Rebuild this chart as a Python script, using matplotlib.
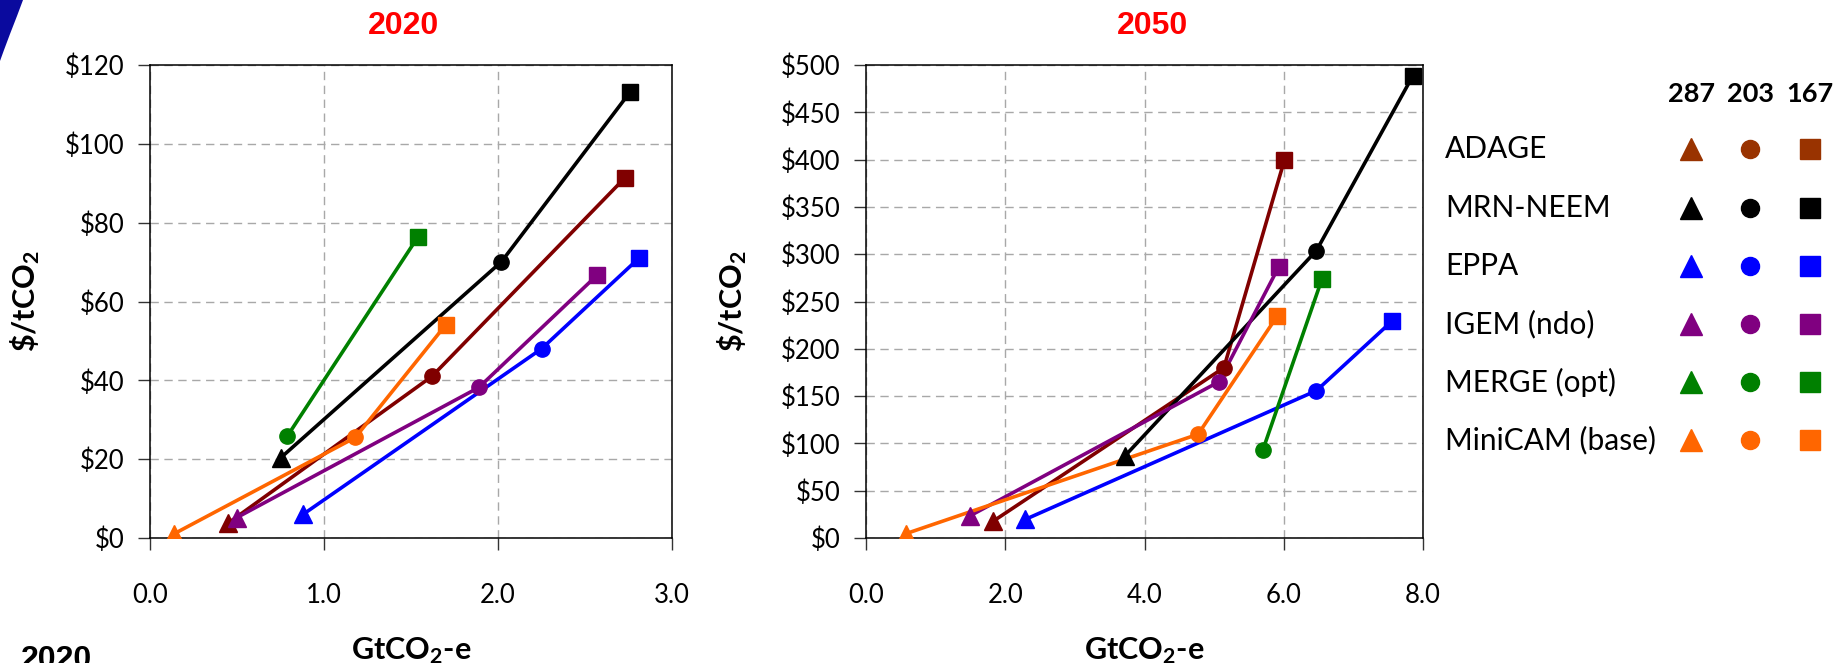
import numpy as np
import matplotlib
matplotlib.use('Agg')
import matplotlib.pyplot as plt
from matplotlib.patches import Polygon

plt.rcParams['font.family'] = ['Lato', 'DejaVu Sans']
plt.rcParams['mathtext.fontset'] = 'custom'
plt.rcParams['mathtext.rm'] = 'Lato'
plt.rcParams['mathtext.bf'] = 'Lato:bold'
plt.rcParams['mathtext.it'] = 'Lato:italic'

# model names and colours
models = ['ADAGE', 'MRN-NEEM', 'EPPA', 'IGEM (ndo)', 'MERGE (opt)', 'MiniCAM (base)']
line_colors = ['#800000', '#000000', '#0000FF', '#800080', '#008000', '#FF6600']
legend_colors = ['#993300', '#000000', '#0000FF', '#800080', '#008000', '#FF6600']
scenarios = ['287', '203', '167']
markers = ['^', 'o', 's']

# 2020: abatement (GtCO2-e) and price ($/tCO2) for 287 / 203 / 167 ppm cases
x_2020 = {
    'ADAGE': [0.45, 1.62, 2.73],
    'MRN-NEEM': [0.75, 2.02, 2.76],
    'EPPA': [0.88, 2.25, 2.81],
    'IGEM (ndo)': [0.50, 1.89, 2.57],
    'MERGE (opt)': [None, 0.79, 1.54],
    'MiniCAM (base)': [0.14, 1.18, 1.70],
}
y_2020 = {
    'ADAGE': [3.8, 41.0, 91.4],
    'MRN-NEEM': [20.3, 70.1, 113.2],
    'EPPA': [6.0, 48.0, 71.0],
    'IGEM (ndo)': [5.2, 38.2, 66.7],
    'MERGE (opt)': [None, 25.9, 76.4],
    'MiniCAM (base)': [1.1, 25.5, 54.1],
}
# 2050
x_2050 = {
    'ADAGE': [1.83, 5.14, 6.01],
    'MRN-NEEM': [3.72, 6.47, 7.85],
    'EPPA': [2.29, 6.47, 7.56],
    'IGEM (ndo)': [1.49, 5.07, 5.93],
    'MERGE (opt)': [None, 5.70, 6.55],
    'MiniCAM (base)': [0.57, 4.77, 5.91],
}
y_2050 = {
    'ADAGE': [17.9, 180.0, 399.7],
    'MRN-NEEM': [86.8, 303.9, 488.0],
    'EPPA': [19.7, 155.8, 229.6],
    'IGEM (ndo)': [23.3, 165.2, 286.9],
    'MERGE (opt)': [None, 93.1, 274.0],
    'MiniCAM (base)': [4.5, 109.7, 235.0],
}

W, H = 1835, 663
fig = plt.figure(figsize=(W / 100, H / 100), dpi=100)


def px_rect(x0, x1, y0, y1):
    return [x0 / W, 1 - y1 / H, (x1 - x0) / W, (y1 - y0) / H]


def draw_panel(ax, xs, ys, xmax, xstep, ymax, ystep):
    for name, lc in zip(models, line_colors):
        pts = [(x, y, m) for x, y, m in zip(xs[name], ys[name], markers) if x is not None]
        ax.plot([p[0] for p in pts], [p[1] for p in pts], color=lc, lw=2.6,
                solid_capstyle='round', zorder=3)
        for x, y, m in pts:
            ms = {'^': 13, 'o': 11, 's': 11.5}[m]
            ax.plot(x, y, marker=m, color=lc, ms=ms, mec=lc, ls='none', zorder=4)
    ax.set_xlim(0, xmax)
    ax.set_ylim(0, ymax)
    xt = np.arange(0, xmax + 1e-9, xstep)
    yt = np.arange(0, ymax + 1e-9, ystep)
    ax.set_xticks(xt)
    ax.set_xticklabels(['%.1f' % v for v in xt])
    ax.set_yticks(yt)
    ax.set_yticklabels(['\\$%d' % v for v in yt])
    ax.grid(True, color='#a8a8a8', ls=(0, (6, 4)), lw=1.0, zorder=0)
    ax.tick_params(direction='out', length=8.5, width=1.0, labelsize=18.5, color='#333333')
    ax.tick_params(axis='x', pad=24)
    ax.tick_params(axis='y', pad=10)
    for s in ax.spines.values():
        s.set_linewidth(1.1)
        s.set_color('black')


ax1 = fig.add_axes(px_rect(150, 672, 65, 538))
draw_panel(ax1, x_2020, y_2020, 3.0, 1.0, 120, 20)
ax2 = fig.add_axes(px_rect(866, 1423, 65, 538))
draw_panel(ax2, x_2050, y_2050, 8.0, 2.0, 500, 50)

# panel titles
fig.text(403 / W, 1 - 26 / H, '2020', color='#FF0000', fontsize=23, fontweight='bold',
         family='Liberation Sans', ha='center', va='center')
fig.text(1152 / W, 1 - 26 / H, '2050', color='#FF0000', fontsize=23, fontweight='bold',
         family='Liberation Sans', ha='center', va='center')

# axis labels
for xc in (25, 732):
    fig.text(xc / W, 1 - 301 / H, r'\$/tCO$_\mathbf{2}$', rotation=90, fontsize=22,
             fontweight='bold', ha='center', va='center')
for xc in (411, 1144):
    fig.text(xc / W, 1 - 659 / H, r'GtCO$_\mathbf{2}$-e', fontsize=22,
             fontweight='bold', ha='center', va='baseline')

# clipped slide text at bottom left
fig.text(21 / W, 1 - 645 / H, '2020', fontsize=23, fontweight='bold',
         family='Liberation Sans', ha='left', va='top')

# overlay in pixel coordinates for legend and decoration
ov = fig.add_axes([0, 0, 1, 1])
ov.set_xlim(0, W)
ov.set_ylim(H, 0)
ov.axis('off')
ov.patch.set_alpha(0)

ov.add_patch(Polygon([(0, 0), (23, 0), (17, 16), (10, 34), (4, 50), (0, 61)],
                     closed=True, color='#0A0A9E', lw=0))

col_x = [1691, 1750, 1810]
row_y = [149, 208, 266, 324, 382, 440]
for cx, lab in zip(col_x, scenarios):
    ov.text(cx, 94, lab, fontsize=19.5, fontweight='bold', ha='center', va='center')
for ry, name, c in zip(row_y, models, legend_colors):
    ov.text(1445, ry, name, fontsize=21.5, ha='left', va='center')
    for cx, m in zip(col_x, markers):
        ms = {'^': 16, 'o': 13, 's': 14.5}[m]
        ov.plot(cx, ry, marker=m, color=c, ms=ms, mec=c, ls='none')

fig.savefig('out.png', dpi=100)
